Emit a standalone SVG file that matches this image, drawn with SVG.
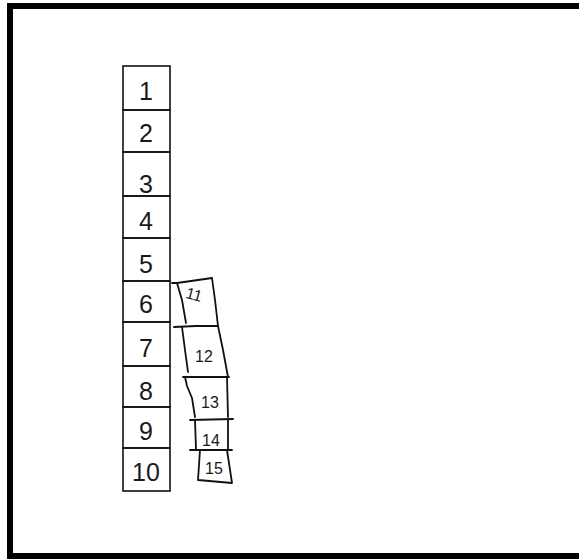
<svg xmlns="http://www.w3.org/2000/svg" width="579" height="559" viewBox="0 0 579 559">
<style>
.frame{fill:none;stroke:#000;stroke-width:6}
.cell{fill:none;stroke:#111;stroke-width:1.6}
.sk{fill:none;stroke:#111;stroke-width:1.8;stroke-linecap:round;stroke-linejoin:round}
.d{font-family:"Liberation Sans","DejaVu Sans",sans-serif;font-size:25px;fill:#1a1a1a;text-anchor:middle}
.s{font-family:"Liberation Sans","DejaVu Sans",sans-serif;font-size:16px;fill:#1a1a1a;text-anchor:middle}
</style>
<rect width="579" height="559" fill="#fff"/>
<rect class="frame" x="10" y="6" width="620" height="550"/>
<g id="n1"><rect class="cell" x="123" y="66" width="47" height="44"/><text class="d" x="146" y="100">1</text></g>
<g id="n2"><rect class="cell" x="123" y="110" width="47" height="42"/><text class="d" x="146" y="142">2</text></g>
<g id="n3"><rect class="cell" x="123" y="152" width="47" height="44"/><text class="d" x="146" y="193">3</text></g>
<g id="n4"><rect class="cell" x="123" y="196" width="47" height="42"/><text class="d" x="146" y="230">4</text></g>
<g id="n5"><rect class="cell" x="123" y="238" width="47" height="43"/><text class="d" x="146" y="273">5</text></g>
<g id="n6"><rect class="cell" x="123" y="281" width="47" height="41"/><text class="d" x="146" y="313">6</text></g>
<g id="n7"><rect class="cell" x="123" y="322" width="47" height="44"/><text class="d" x="146" y="357">7</text></g>
<g id="n8"><rect class="cell" x="123" y="366" width="47" height="41"/><text class="d" x="146" y="400">8</text></g>
<g id="n9"><rect class="cell" x="123" y="407" width="47" height="41"/><text class="d" x="146" y="440">9</text></g>
<g id="n10"><rect class="cell" x="123" y="448" width="47" height="43"/><text class="d" x="146" y="481">10</text></g>
<g id="n11"><path class="sk" d="M172,283 L177,283 L212,278 M177,283 L182,300 L186,323 M212,278 L215,300 L218,326 M174,327 L196,326 L218,326"/><text class="s" x="194" y="300" transform="rotate(15 194 295)">11</text></g>
<g id="n12"><path class="sk" d="M182,327 L185,350 L188,372 M218,326 L223,350 L228,377 M183,377 L229,377"/><text class="s" x="204" y="362">12</text></g>
<g id="n13"><path class="sk" d="M185,377 L187,386 L192,398 L195,417 M227,377 L228,417 M190,420 L233,419"/><text class="s" x="210" y="408">13</text></g>
<g id="n14"><path class="sk" d="M195,420 L196,449 M228,420 L228,449 M190,450 L232,450"/><text class="s" x="211" y="446">14</text></g>
<g id="n15"><path class="sk" d="M200,450 L198,480 M227,450 L232,483 M198,480 L232,483"/><text class="s" x="214" y="474">15</text></g>
<g id="connectors"></g>
</svg>
